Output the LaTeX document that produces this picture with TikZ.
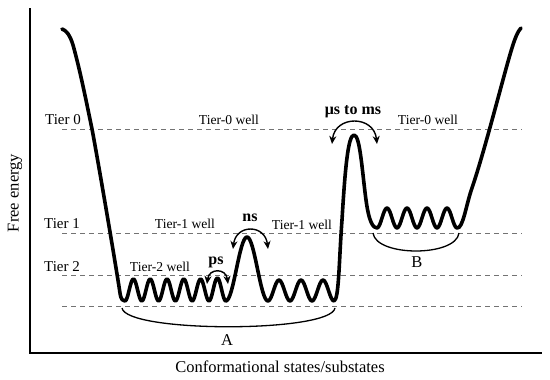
\documentclass[tikz,border=0pt]{standalone}
\usepackage{fontspec}
\setmainfont{Liberation Serif}
\usetikzlibrary{arrows.meta}
\begin{document}
\begin{tikzpicture}[x=1pt,y=-1pt,
  tierlab/.style={font=\fontsize{15}{17}\selectfont},
  welllab/.style={font=\fontsize{13.6}{16}\selectfont},
  timelab/.style={font=\fontsize{16}{18}\selectfont\bfseries},
  axislab/.style={font=\fontsize{16.5}{19}\selectfont},
  guide/.style={draw=black!55,line width=0.9pt,dash pattern=on 5pt off 4pt},
  energy/.style={line width=3.6pt,line join=round,line cap=round},
  brace/.style={line width=1.3pt},
  hop/.style={line width=1.4pt,{Stealth[length=8pt,width=7pt,inset=2.5pt]}-{Stealth[length=8pt,width=7pt,inset=2.5pt]}},
  axis/.style={line width=1.3pt}]
\useasboundingbox (0,0) rectangle (550,380);
% axes
\coordinate (otop) at (30,8);
\coordinate (o) at (30,353);
\coordinate (xend) at (542,353);
\draw[axis] (otop) -- (o) -- (xend);
\node[axislab,rotate=90] (ylab) at (15,193) {Free energy};
\node[axislab] (xlab) at (280,367) {Conformational states/substates};
% dashed tier lines
\coordinate (t0a) at (62,129); \coordinate (t0b) at (522,129);
\coordinate (t1a) at (62,233); \coordinate (t1b) at (522,233);
\coordinate (t2a) at (62,275); \coordinate (t2b) at (522,275);
\coordinate (t3a) at (62,306); \coordinate (t3b) at (522,306);
\draw[guide] (t0a) -- (t0b);
\draw[guide] (t1a) -- (t1b);
\draw[guide] (t2a) -- (t2b);
\draw[guide] (t3a) -- (t3b);
% tier labels
\node[tierlab] (tier0) at (63,120) {Tier 0};
\node[tierlab] (tier1) at (62,224) {Tier 1};
\node[tierlab] (tier2) at (62,267) {Tier 2};
\node[welllab] (w0l) at (229,120) {Tier-0 well};
\node[welllab] (w0r) at (428,120) {Tier-0 well};
\node[welllab] (w1l) at (185,224) {Tier-1 well};
\node[welllab] (w1r) at (302,225) {Tier-1 well};
\node[welllab] (w2l) at (160,267) {Tier-2 well};
% energy landscape
\draw[energy] (62,29) .. controls (66,30) and (70,35) .. (73,45)
  .. controls (80,70) and (86,100) .. (92,129)
  .. controls (97,155) and (115,260) .. (120,293)
  .. controls (121,300) and (123,301) .. (125,301)
  cos (129.2,290) sin (133.4,279) cos (137.6,290) sin (141.8,301)
  cos (146,290) sin (150.2,279) cos (154.4,290) sin (158.6,301)
  cos (162.8,290) sin (167,279) cos (171.2,290) sin (175.4,301)
  cos (179.6,290) sin (183.8,279) cos (188,290) sin (192.2,301)
  cos (196.4,290) sin (200.6,279) cos (204.8,290) sin (209,301)
  cos (213.2,289.5) sin (217.4,278) cos (221.6,289.5) sin (225.8,301)
  cos (236.4,269) sin (247,237) cos (257.5,269) sin (268,301)
  cos (273.5,290.5) sin (279,280) cos (284.5,290.5) sin (290,301)
  cos (295.5,290.5) sin (301,280) cos (306.5,290.5) sin (312,301)
  cos (317.5,290.5) sin (323,280) cos (328.5,290.5) sin (334,301)
  .. controls (339,300) and (339,260) .. (342,220)
  .. controls (345,170) and (348,135) .. (354,135)
  .. controls (360,135) and (362,170) .. (366,200)
  .. controls (369,222) and (373,228) .. (377,228)
  cos (382,218) sin (387,208) cos (392,218) sin (397,228)
  cos (402,218) sin (407,208) cos (412,218) sin (417,228)
  cos (422,218) sin (427,208) cos (432,218) sin (437,228)
  cos (442,218) sin (447,208) cos (452,218) sin (457,228)
  .. controls (463,229) and (466,205) .. (472,188)
  .. controls (485,150) and (505,70) .. (512,48)
  .. controls (515,38) and (518,31) .. (521,28);
% braces
\coordinate (a1) at (122,308); \coordinate (a2) at (335,308);
\draw[brace] (a1) .. controls (126,333) and (331,333) .. (a2);
\node[axislab] (labA) at (227,340) {A};
\coordinate (b1) at (373,233); \coordinate (b2) at (459,233);
\draw[brace] (b1) .. controls (376,257) and (456,257) .. (b2);
\node[axislab] (labB) at (417,262) {B};
% hops
\coordinate (p1) at (207,284); \coordinate (p2) at (228,284);
\draw[hop] (p1) .. controls (209,268) and (226,268) .. (p2);
\node[timelab] (ps) at (216,262) {ps};
\coordinate (n1) at (233,249); \coordinate (n2) at (268,249);
\draw[hop] (n1) .. controls (236,224) and (265,224) .. (n2);
\node[timelab] (ns) at (250,218) {ns};
\coordinate (m1) at (332,144); \coordinate (m2) at (377,144);
\draw[hop] (m1) .. controls (335,115) and (374,115) .. (m2);
\node[timelab] (mus) at (353,112) {μs to ms};
\end{tikzpicture}
\end{document}
